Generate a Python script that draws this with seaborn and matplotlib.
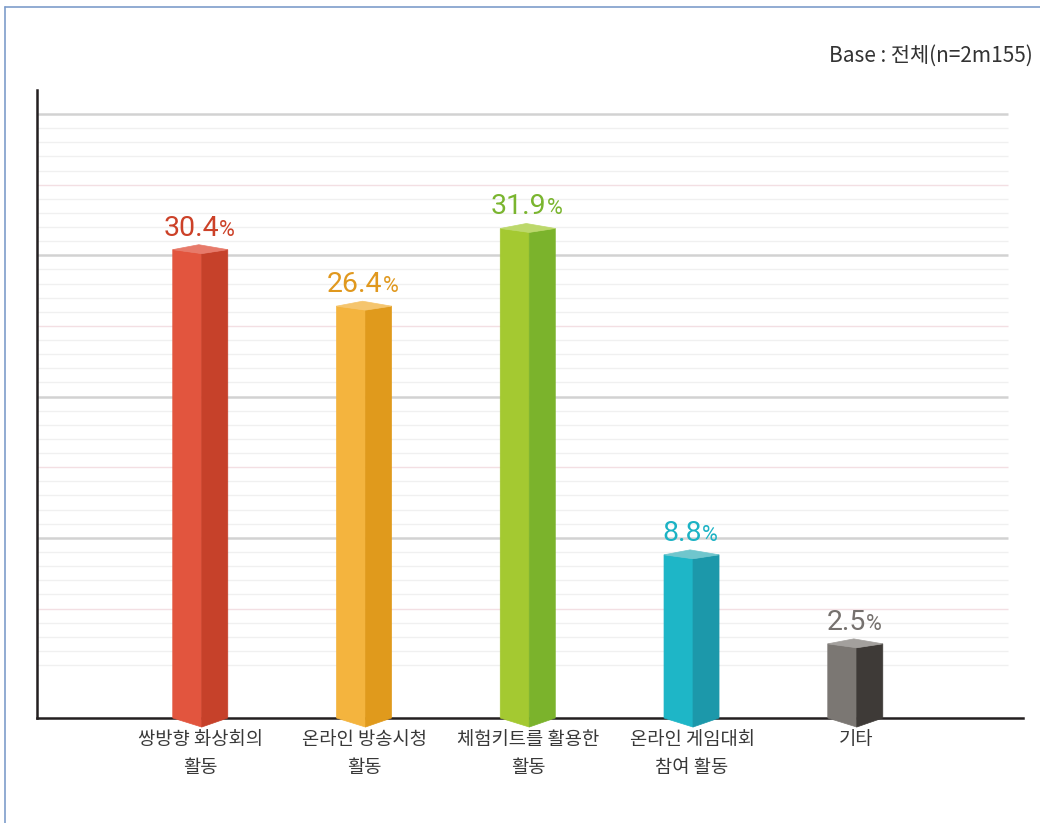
import matplotlib
matplotlib.use("Agg")
import matplotlib.pyplot as plt
import seaborn as sns
from matplotlib.lines import Line2D

# chart data
categories = ["쌍방향 화상회의\n활동", "온라인 방송시청\n활동", "체험키트를 활용한\n활동",
              "온라인 게임대회\n참여 활동", "기타"]
values = [30.4, 26.4, 31.9, 8.8, 2.5]
front_colors = ["#E2553E", "#F4B43E", "#A4C931", "#1EB6C7", "#7B7773"]
side_colors = ["#C6412A", "#E09A1C", "#7BB32C", "#1C98AA", "#3E3A37"]
top_colors = ["#E77A6A", "#F5C56E", "#BCD86B", "#70C6CD", "#A3A09D"]
label_colors = ["#CC4128", "#E0981E", "#7AB52F", "#1BB2C4", "#75716E"]
base_note = "Base : 전체(n=2m155)"

sns.set_theme(style="white")
plt.rcParams['font.family'] = ['Noto Sans CJK KR', 'DejaVu Sans']

W, H = 1040, 823
fig = plt.figure(figsize=(W / 100, H / 100), dpi=100)
ax = fig.add_axes([37 / W, (H - 718) / H, 985.8 / W, 628 / H])
ax.set_xlim(-1, 5.02)
ax.set_ylim(-2.75, 41.7)

# background grid: light lines every 1, pinkish at 5s, grey at 10s
minor = [v for v in range(1, 40) if v % 5]
ax.hlines(minor, -1, 4.93, color="#F0F0F0", lw=1, zorder=1)
ax.hlines([5, 15, 25, 35], -1, 4.93, color="#F3DFE3", lw=1, zorder=1)
ax.hlines([10, 20, 30, 40], -1, 4.93, color="#D2D2D2", lw=1.8, zorder=1)

# pseudo 3D bars
FW, SW = 0.177, 0.159
DIP, RISE, TIP = 0.28, 0.35, 0.64
y0 = ax.get_ylim()[0]
texts = []
for i, v in enumerate(values):
    x1 = i + 0.006
    x0, x2 = x1 - FW, x1 + SW
    xp = x1 - 0.018
    ax.fill([x0, x1, x1, x0], [y0, y0 - TIP, v - DIP, v], color=front_colors[i],
            ec=front_colors[i], lw=0.5, zorder=3, clip_on=False)
    ax.fill([x1, x2, x2, x1], [y0 - TIP, y0, v, v - DIP], color=side_colors[i],
            ec=side_colors[i], lw=0.5, zorder=3, clip_on=False)
    ax.fill([x0, xp, x2, x1], [v, v + RISE, v, v - DIP], color=top_colors[i],
            ec=top_colors[i], lw=0.5, zorder=4, clip_on=False)

    t = ax.text(i, v + 1.0, f"{v}", fontsize=20.5, family="Roboto",
                color=label_colors[i], ha="left", va="baseline", zorder=5)
    p = ax.text(i, v + 1.0, "%", fontsize=15.5, family="Roboto",
                color=label_colors[i], ha="left", va="baseline", zorder=5)
    texts.append((i, t, p))

ax.set_xticks(range(len(categories)))
ax.set_xticklabels(categories, fontsize=13.5, color="#383838")
for lab in ax.get_xticklabels():
    lab.set_linespacing(1.45)
ax.tick_params(axis="x", length=0, pad=8)
ax.set_yticks([])

sns.despine(ax=ax)
for side in ["left", "bottom"]:
    ax.spines[side].set_color("#231F20")
    ax.spines[side].set_linewidth(1.8)

fig.text(1033 / W, 1 - 62 / H, base_note, fontsize=15, color="#333333",
         ha="right", va="baseline")

# thin frame on the left and top
fig.add_artist(Line2D([5 / W, 5 / W], [0, 1 - 7 / H], color="#7E9DCB", lw=1.2))
fig.add_artist(Line2D([5 / W, 1], [1 - 7 / H, 1 - 7 / H], color="#7E9DCB", lw=1.2))

# centre each "value%" label over its bar, % sits right after the number
fig.canvas.draw()
r = fig.canvas.get_renderer()
inv = ax.transData.inverted()
for i, t, p in texts:
    w1 = t.get_window_extent(r).width
    w2 = p.get_window_extent(r).width
    cx = ax.transData.transform((i - 0.01, 0))[0]
    left = cx - (w1 + w2) / 2
    t.set_x(inv.transform((left, 0))[0])
    p.set_x(inv.transform((left + w1, 0))[0])

fig.savefig("out.png", dpi=100)
